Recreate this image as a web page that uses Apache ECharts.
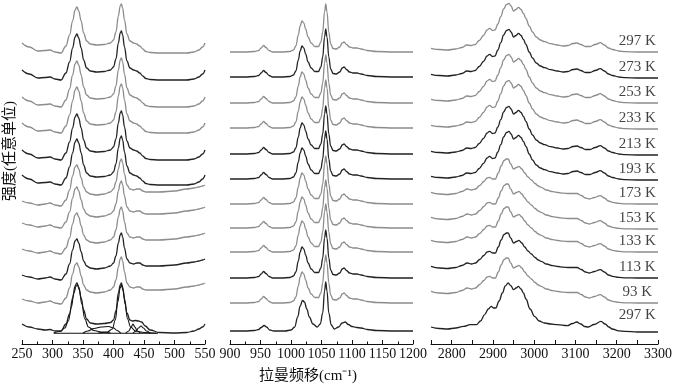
<!DOCTYPE html>
<html>
<head>
<meta charset="utf-8">
<script src="https://cdn.jsdelivr.net/npm/echarts@6/dist/echarts.min.js"></script>
<style>
  html, body { margin: 0; background: #fff; }
  #chart { width: 675px; height: 388px; }
</style>
</head>
<body>
<div id="chart"></div>
<script>
// 温度标签（从上到下）
const temps = ['297 K', '273 K', '253 K', '233 K', '213 K', '193 K',
  '173 K', '153 K', '133 K', '113 K', '93 K', '297 K'];

// 每条谱线的基线高度
const p1Base = [301, 274, 247, 221, 194, 169, 143, 121, 95, 69, 45, 20];
const p2Base = [292, 267, 241, 216, 190, 165, 140, 116, 92, 66, 41, 13];
const p3Base = [292, 266, 241, 215, 189, 164, 140, 115, 92, 66, 41, 12];

// 250-550 cm-1 谱形
const p1Upper = [[250,0],[262,-4],[276,-8],[288,-7.5],[296,-7],[304,-9],[314,-10],[322,-3],[328,8],[333,22],
  [337,33],[340,36],[343,32],[347,22],[351,10],[356,2],[362,-1],[372,-2],[385,-1.5],[395,0],[400,3],[404,11],
  [408,27],[411,37],[413,39],[415,35],[418,23],[422,9],[427,2],[433,0],[438,-1],[443,-3],[448,-6],[453,-8.5],
  [460,-9.5],[475,-10],[500,-10],[520,-10],[532,-9],[540,-7],[546,-4],[550,0]];
const p1Lower = [[250,0],[262,-2],[276,-4],[288,-3],[296,-2],[304,-4],[314,-5],[322,1],[328,11],[333,25],
  [337,34],[340,36],[343,32],[347,23],[351,14],[356,9],[362,7],[372,6],[385,7],[395,9],[400,12],[404,19],
  [408,32],[411,40],[413,42],[415,38],[418,27],[422,16],[427,12],[433,11],[438,12],[443,12],[448,10],[453,9],
  [460,9],[475,9],[500,10],[520,12],[532,13],[540,14],[546,15],[550,16]];
const p1Bottom = [[250,0],[262,-3],[276,-5],[288,-6],[296,-5.5],[304,-7],[314,-7],[322,0],[328,10],[333,26],
  [337,38],[340,41],[343,37],[347,26],[351,14],[356,5],[362,1],[372,0],[385,0.5],[395,1.5],[400,4],[404,13],
  [408,31],[411,39],[413,41],[415,37],[418,25],[422,11],[427,4],[431,3],[436,3.5],[441,3],[446,2],[452,-2],
  [460,-6],[475,-8.5],[500,-9],[520,-8.5],[532,-7],[540,-5],[546,-3],[550,0]];
// 最下方谱线的拟合分峰
const fitBase = [[302,-9.3],[473,-9.3]];
const fitA = [[302,-9],[312,-7.5],[320,-4],[326,3],[331,17],[335,31],[339,38],[341,39],[344,34],[348,20],
  [353,5],[359,-3],[368,-6.5],[380,-8],[395,-9]];
const fitB = [[375,-9],[390,-8],[398,-5],[403,4],[407,22],[411,36],[413,39],[416,33],[419,20],[423,5],
  [428,-3],[436,-7],[450,-8.5],[470,-9.2]];
const fitBroad = [[350,-9.3],[358,-7],[368,-4.5],[380,-3],[392,-2.5],[400,-4],[406,-6.5],[412,-9.3]];
const fitC = [[420,-9.3],[425,-7],[429,-3],[432,0],[435,-3],[439,-7],[444,-9.3]];
const fitD = [[432,-9.3],[437,-7],[441,-4],[445,-2],[449,-4],[454,-7],[460,-9.3]];

// 900-1200 cm-1 谱形
const p2Main = [[900,0],[925,0],[940,0.5],[947,1.5],[951,4],[955,6.5],[959,4.5],[964,1.5],[970,0],[985,0],
  [998,0.5],[1004,2],[1008,6],[1012,17],[1015,26],[1018,31],[1021,29],[1024,23],[1028,15],[1033,9],[1039,5.5],
  [1045,5.5],[1049,10],[1052,20],[1055,40],[1057,48],[1059,40],[1062,20],[1065,8],[1069,3.5],[1074,3],
  [1080,5],[1084,9],[1087,10],[1091,7.5],[1096,5],[1102,4],[1108,4],[1115,3],[1125,1.5],[1140,0.5],
  [1170,0],[1200,0]];
const p2Bottom = [[900,0],[925,0],[940,0.5],[947,1.5],[951,3.5],[956,5.5],[960,4],[965,1],[972,0],[990,0],
  [1000,1],[1006,4],[1011,14],[1015,25],[1019,30.5],[1022,29],[1026,22],[1030,14],[1036,7],[1043,4],[1048,7],
  [1052,18],[1055,40],[1057,49],[1059,40],[1062,18],[1066,6],[1071,2],[1078,4],[1084,8],[1089,9],[1094,6.5],
  [1100,4.5],[1108,3.5],[1115,3],[1125,1.5],[1140,0.5],[1170,0],[1200,0]];

// 2750-3300 cm-1 谱形
const p3Upper = [[2750,3.7],[2770,2.5],[2790,2],[2810,3],[2825,4.5],[2837,7],[2847,6.5],[2857,7.5],[2867,11.5],
  [2877,16.5],[2886,22],[2892,23.7],[2899,21.5],[2905,22],[2912,28],[2919,35.3],[2926,43],[2933,47.5],
  [2939,48.7],[2944,46],[2950,41],[2956,42.5],[2962,44.7],[2968,42.5],[2974,38.5],[2980,33.5],[2988,26],
  [2996,20],[3005,15],[3015,12],[3025,10.3],[3040,8.3],[3056,7],[3070,6],[3082,6.5],[3094,8.5],[3104,9],
  [3113,7.5],[3124,5.5],[3135,5.5],[3148,7.5],[3160,9.3],[3170,7],[3180,4],[3190,2.5],[3205,1],[3221,0.3],
  [3250,0],[3300,0]];
const p3Lower = [[2750,11.7],[2770,10],[2790,9.5],[2810,10.5],[2825,12.5],[2838,15],[2848,14],[2858,15],
  [2868,18.5],[2878,22.5],[2886,26],[2892,26.7],[2899,25],[2906,25],[2913,31],[2920,38],[2927,43.5],
  [2933,45],[2937,45],[2943,40],[2950,35],[2957,36.5],[2963,37.7],[2970,35],[2977,31],[2985,27],[2993,24],
  [3002,20.5],[3010,18],[3017,16.7],[3030,14],[3045,12.3],[3058,11.5],[3070,10.8],[3082,10.5],[3094,10.5],
  [3104,10.5],[3114,8.5],[3124,6],[3134,5],[3146,6.5],[3160,8.4],[3170,6],[3180,3],[3190,1.7],[3205,0.7],
  [3221,0.2],[3250,0],[3300,0]];
const p3Bottom = [[2750,5],[2770,3.5],[2790,3],[2810,4],[2829,5.6],[2845,7.3],[2860,7.3],[2870,11],[2880,17.3],
  [2889,23],[2896,25.6],[2902,24],[2907,24],[2915,31],[2923,39],[2930,46],[2937,49],[2943,46.5],[2950,42.3],
  [2956,44],[2962,45.6],[2968,43],[2974,39],[2980,33],[2990,23],[3001,15.6],[3012,11],[3025,9],[3040,8],
  [3056,7.3],[3080,6.3],[3093,8.5],[3103,10],[3113,8],[3122,5.5],[3131,5],[3145,7.5],[3162,10.6],[3172,8],
  [3181,5],[3189,3],[3205,1.2],[3221,0.6],[3250,0],[3300,0]];

const gray = '#8c8c8c';
const dark = '#222';
const shade = [gray, dark, gray, gray, dark, dark, gray, gray, gray, dark, gray, dark];
const serif = '"Liberation Serif", "Times New Roman", serif';

function stackLine(panel, profile, base, color, width) {
  return {
    type: 'line',
    xAxisIndex: panel,
    yAxisIndex: panel,
    data: profile.map(p => [p[0], p[1] + base]),
    smooth: 0.4,
    smoothMonotone: 'x',
    symbol: 'none',
    silent: true,
    lineStyle: { color: color, width: width }
  };
}

const series = [];
for (let i = 0; i < 12; i++) {
  const prof1 = i < 6 ? p1Upper : (i < 11 ? p1Lower : p1Bottom);
  const prof2 = i < 11 ? p2Main : p2Bottom;
  const prof3 = i < 6 ? p3Upper : (i < 11 ? p3Lower : p3Bottom);
  series.push(stackLine(0, prof1, p1Base[i], shade[i], 1.3));
  series.push(stackLine(1, prof2, p2Base[i], shade[i], 1.3));
  series.push(stackLine(2, prof3, p3Base[i], shade[i], 1.3));
}
// 分峰拟合曲线
[fitBase, fitA, fitB, fitBroad, fitC, fitD].forEach(f => {
  series.push(stackLine(0, f, p1Base[11], '#111', 1.1));
});
// 温度标签
series.push({
  type: 'scatter',
  xAxisIndex: 2,
  yAxisIndex: 2,
  symbolSize: 0,
  silent: true,
  data: temps.map((t, i) => [3250, p3Base[i] + (i < 11 ? 11 : 17)]),
  label: {
    show: true,
    position: 'inside',
    formatter: p => temps[p.dataIndex],
    fontFamily: serif,
    fontSize: 15,
    color: '#111'
  }
});

function xAxisCfg(idx, min, max, minor, fmt) {
  return {
    type: 'value',
    gridIndex: idx,
    min: min,
    max: max,
    interval: 50,
    splitLine: { show: false },
    axisLine: { lineStyle: { color: '#111', width: 1 } },
    axisTick: { inside: true, length: 4, lineStyle: { color: '#111' } },
    minorTick: { show: minor, splitNumber: 2, length: 2.5, lineStyle: { color: '#111' } },
    axisLabel: {
      margin: 3,
      fontFamily: serif,
      fontSize: 14,
      color: '#111',
      showMinLabel: true,
      showMaxLabel: true,
      formatter: fmt || (v => String(v))
    }
  };
}

function yAxisCfg(idx) {
  return { type: 'value', gridIndex: idx, min: 0, max: 344, show: false };
}

const chart = echarts.init(document.getElementById('chart'));
chart.setOption({
  animation: false,
  backgroundColor: '#fff',
  grid: [
    { left: 22, right: 470, top: 0, bottom: 44 },
    { left: 230, right: 262, top: 0, bottom: 44 },
    { left: 431, right: 10, top: 0, bottom: 44 }
  ],
  xAxis: [
    xAxisCfg(0, 250, 550, true),
    xAxisCfg(1, 900, 1200, true),
    xAxisCfg(2, 2750, 3300, false, v => (v % 100 === 0 ? String(v) : ''))
  ],
  yAxis: [yAxisCfg(0), yAxisCfg(1), yAxisCfg(2)],
  graphic: [
    {
      type: 'text',
      x: 10,
      y: 151,
      rotation: Math.PI / 2,
      style: {
        text: '强度(任意单位)',
        font: '15px "Liberation Serif", "Noto Sans CJK SC"',
        fill: '#111',
        textAlign: 'center',
        textVerticalAlign: 'middle'
      }
    },
    {
      type: 'text',
      x: 308,
      y: 376,
      style: {
        text: '拉曼频移(cm⁻¹)',
        font: '15px "Liberation Serif", "Noto Sans CJK SC"',
        fill: '#111',
        textAlign: 'center',
        textVerticalAlign: 'middle'
      }
    }
  ],
  series: series
});
</script>
</body>
</html>
